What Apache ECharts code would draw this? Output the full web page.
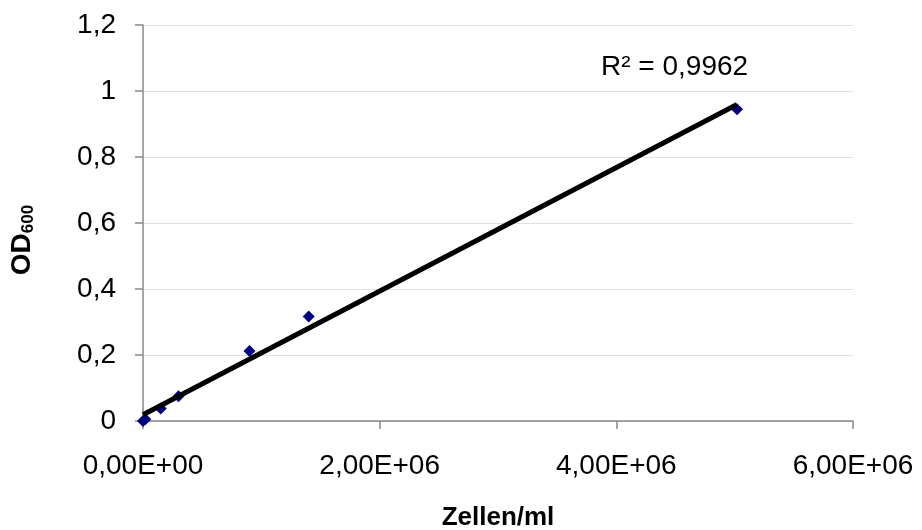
<!DOCTYPE html>
<html>
<head>
<meta charset="utf-8">
<script src="https://cdn.jsdelivr.net/npm/echarts@6/dist/echarts.min.js"></script>
<style>
  html, body { margin: 0; padding: 0; background: #fff; }
  #chart { width: 922px; height: 530px; }
</style>
</head>
<body>
<div id="chart"></div>
<script>
// Messwerte: Zellzahl pro ml und OD600
const cellsPerMl = [0, 20000, 150000, 300000, 900000, 1400000, 5020000]
const od600 = [0, 0.005, 0.038, 0.075, 0.212, 0.317, 0.945]
const rSquaredText = 'R² = 0,9962'

// lineare Regression aus den Messwerten
const n = cellsPerMl.length
const mx = cellsPerMl.reduce((a, b) => a + b, 0) / n
const my = od600.reduce((a, b) => a + b, 0) / n
let sxy = 0
let sxx = 0
for (let i = 0; i < n; i++) {
  sxy += (cellsPerMl[i] - mx) * (od600[i] - my)
  sxx += (cellsPerMl[i] - mx) * (cellsPerMl[i] - mx)
}
const slope = sxy / sxx
const intercept = my - slope * mx
const xMax = Math.max(...cellsPerMl)
const trend = [[0, intercept], [xMax, intercept + slope * xMax]]

const points = cellsPerMl.map((x, i) => [x, od600[i]])

// 0,00E+00 Format
function sciLabel (v) {
  const parts = v.toExponential(2).split('e')
  const exp = parseInt(parts[1], 10)
  const sign = exp < 0 ? '-' : '+'
  const e = String(Math.abs(exp)).padStart(2, '0')
  return parts[0].replace('.', ',') + 'E' + sign + e
}

const font = 'Liberation Sans, Arial, sans-serif'
const chart = echarts.init(document.getElementById('chart'))
chart.setOption({
  animation: false,
  textStyle: { fontFamily: font },
  grid: { left: 143, right: 69, top: 25, bottom: 109, outerBoundsMode: 'none', containLabel: false },
  xAxis: {
    type: 'value',
    min: 0,
    max: 6000000,
    interval: 2000000,
    name: 'Zellen/ml',
    nameLocation: 'middle',
    nameGap: 84,
    nameTextStyle: { fontSize: 26, fontWeight: 'bold', color: '#000' },
    axisLine: { show: true, lineStyle: { color: '#888', width: 1.5 } },
    axisTick: { show: true, length: 8, lineStyle: { color: '#888', width: 1.5 } },
    axisLabel: { fontSize: 28, color: '#000', margin: 31, formatter: sciLabel },
    splitLine: { show: false }
  },
  yAxis: {
    type: 'value',
    min: 0,
    max: 1.2,
    interval: 0.2,
    name: '{a|OD}{b|600}',
    nameLocation: 'middle',
    nameGap: 106,
    nameTextStyle: {
      padding: [0, 34, 0, 0],
      rich: {
        a: { fontSize: 28, fontWeight: 'bold', color: '#000' },
        b: { fontSize: 17, fontWeight: 'bold', color: '#000', padding: [12, 0, 0, 0] }
      }
    },
    axisLine: { show: true, lineStyle: { color: '#888', width: 1.5 } },
    axisTick: { show: true, length: 8, lineStyle: { color: '#888', width: 1.5 } },
    axisLabel: {
      fontSize: 28,
      color: '#000',
      margin: 27,
      formatter: v => String(Math.round(v * 10) / 10).replace('.', ',')
    },
    splitLine: { show: true, lineStyle: { color: '#e0e0e0', width: 1 } }
  },
  graphic: [{
    type: 'text',
    left: 601,
    top: 53,
    style: { text: rSquaredText, fontSize: 28, fill: '#000', fontFamily: font }
  }],
  series: [
    {
      type: 'scatter',
      data: points,
      symbol: 'diamond',
      symbolSize: 12,
      itemStyle: { color: '#000080', opacity: 1 },
      z: 2
    },
    {
      type: 'line',
      data: trend,
      showSymbol: false,
      lineStyle: { color: '#000', width: 5 },
      z: 3
    }
  ]
})
</script>
</body>
</html>
